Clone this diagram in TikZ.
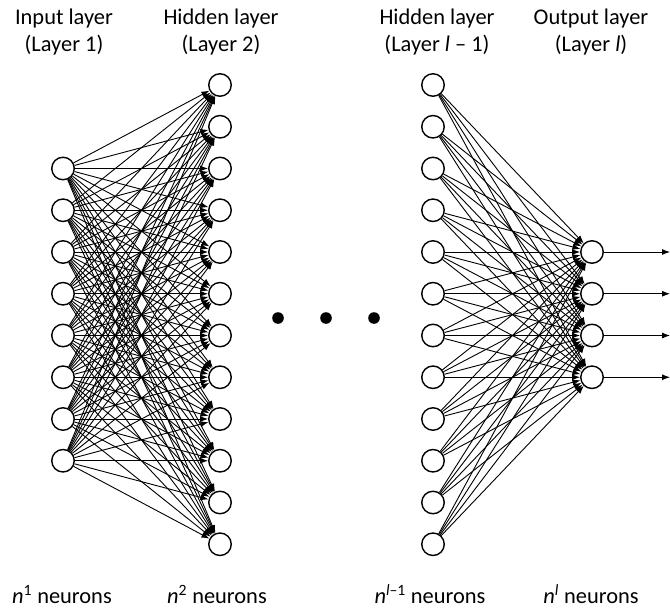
\documentclass[tikz,border=0pt]{standalone}
\usepackage{fontspec}
\setmainfont{Carlito}
\usetikzlibrary{arrows.meta,positioning}

\begin{document}
\begin{tikzpicture}[x=1bp,y=-1bp,>={Latex[length=8bp,width=6bp]}]
  \tikzstyle{neuron}=[draw,circle,line width=1.4bp,fill=white,inner sep=0pt,minimum size=22.5bp]
  \tikzstyle{link}=[->,line width=0.9bp]
  \tikzstyle{title}=[align=center,inner sep=1bp,font=\fontsize{22.5}{27}\selectfont]
  \useasboundingbox (0,0) rectangle (670,610);
  % layers
  \foreach \i in {1,...,8}
    \node[neuron] (in\i) at (63,{168.5+41.75*(\i-1)}) {};
  \foreach \j in {1,...,12}
    \node[neuron] (hA\j) at (220,{85+41.75*(\j-1)}) {};
  \foreach \j in {1,...,12}
    \node[neuron] (hB\j) at (433,{85+41.75*(\j-1)}) {};
  \foreach \k in {1,...,4}
    \node[neuron] (out\k) at (592,{252+41.75*(\k-1)}) {};
  % connections
  \foreach \i in {1,...,8}
    \foreach \j in {1,...,12}
      \draw[link] (in\i) -- (hA\j);
  \foreach \j in {1,...,12}
    \foreach \k in {1,...,4}
      \draw[link] (hB\j) -- (out\k);
  \foreach \k in {1,...,4}{
    \coordinate (y\k) at (670,{252+41.75*(\k-1)});
    \draw[link] (out\k) -- (y\k);
  }
  % dots
  \foreach \x in {278,326,374}
    \fill (\x,318) circle (5.8bp);
  % labels
  \node[title] (tin) at (64,32) {Input layer\\(Layer 1)};
  \node[title] (thA) at (221,32) {Hidden layer\\(Layer 2)};
  \node[title] (thB) at (437,32) {Hidden layer\\(Layer \textit{l} – 1)};
  \node[title] (tout) at (591,32) {Output layer\\(Layer \textit{l})};
  \node[title,anchor=base] (nin) at (62,603) {\textit{n}\textsuperscript{1} neurons};
  \node[title,anchor=base] (nhA) at (217,603) {\textit{n}\textsuperscript{2} neurons};
  \node[title,anchor=base] (nhB) at (430,603) {\textit{n}\textsuperscript{\textit{l}–1} neurons};
  \node[title,anchor=base] (nout) at (591,603) {\textit{n}\textsuperscript{\textit{l}} neurons};
\end{tikzpicture}
\end{document}
